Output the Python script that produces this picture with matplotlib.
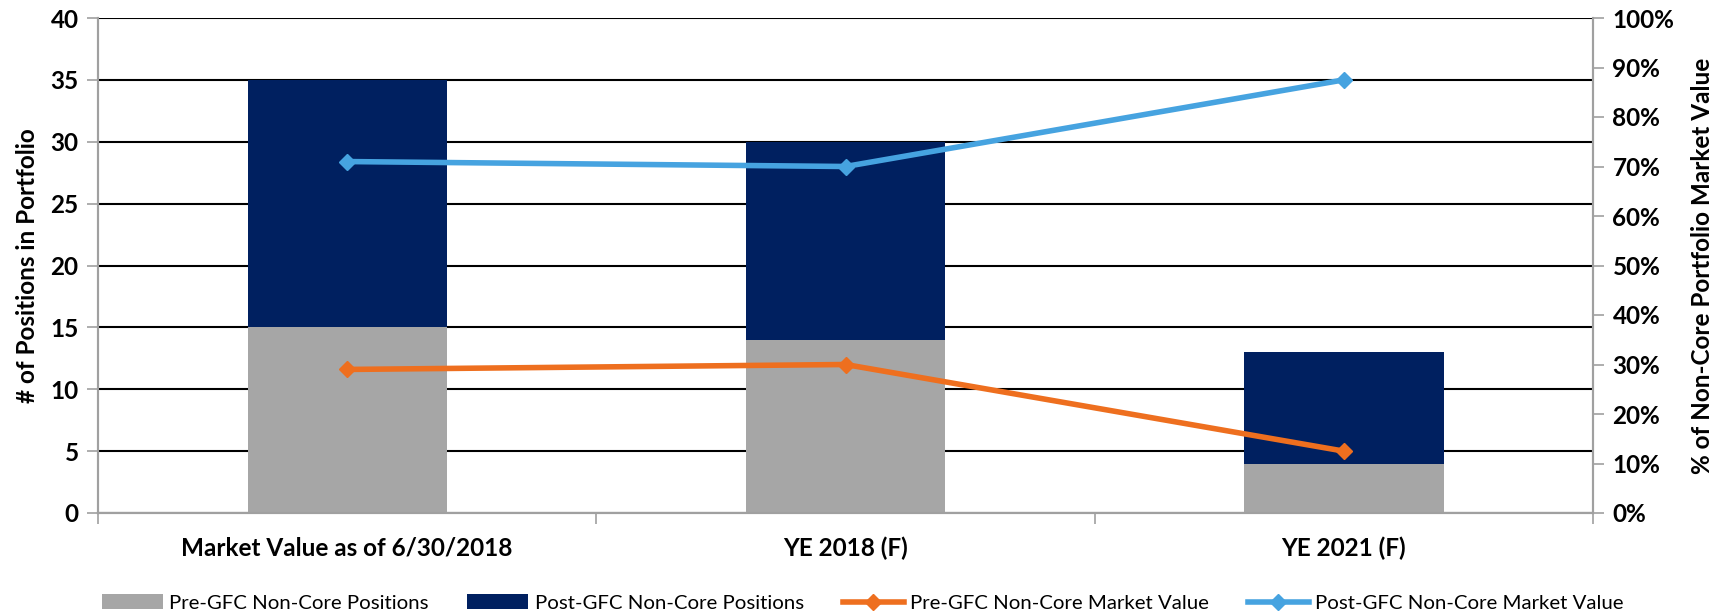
import numpy as np
import matplotlib
matplotlib.use("Agg")
import matplotlib.pyplot as plt
from matplotlib.ticker import MultipleLocator, PercentFormatter, FixedLocator

plt.rcParams['font.family'] = ['Lato', 'DejaVu Sans']

# data
categories = ["Market Value as of 6/30/2018", "YE 2018 (F)", "YE 2021 (F)"]
pre_positions = [15, 14, 4]
post_positions = [20, 16, 9]
pre_mv_pct = [29, 30, 12.5]
post_mv_pct = [71, 70, 87.5]

gray = "#a6a6a6"
navy = "#002060"
orange = "#ee6f1f"
blue = "#46a3e0"
spine_col = "#a0a0a0"

fig = plt.figure(figsize=(17.25, 6.14), dpi=100)
ax = fig.add_axes([98/1725, 101/614, 1495/1725, 495/614])
ax2 = ax.twinx()

x = np.arange(len(categories))
ax.bar(x, pre_positions, width=0.4, color=gray, label="Pre-GFC Non-Core Positions", zorder=3)
ax.bar(x, post_positions, width=0.4, bottom=pre_positions, color=navy,
       label="Post-GFC Non-Core Positions", zorder=3)

ax2.plot(x, pre_mv_pct, color=orange, lw=4, marker="D", ms=8, label="Pre-GFC Non-Core Market Value")
ax2.plot(x, post_mv_pct, color=blue, lw=4, marker="D", ms=8, label="Post-GFC Non-Core Market Value")

ax.set_xlim(-0.5, 2.5)
ax.set_ylim(0, 40)
ax2.set_ylim(0, 100)

ax.yaxis.set_major_locator(MultipleLocator(5))
ax2.yaxis.set_major_locator(MultipleLocator(10))
ax2.yaxis.set_major_formatter(PercentFormatter(decimals=0))

ax.set_xticks(x)
ax.set_xticklabels(categories, fontsize=17.5, fontweight="bold")
ax.xaxis.set_minor_locator(FixedLocator([-0.5, 0.5, 1.5, 2.5]))
ax.tick_params(axis="x", which="major", length=0, pad=17)
ax.tick_params(axis="x", which="minor", length=8, color=spine_col, width=1.2, direction="out")

ax.tick_params(axis="y", length=8, color=spine_col, width=1.2, labelsize=17.5, pad=6)
ax2.tick_params(axis="y", length=8, color=spine_col, width=1.2, labelsize=17.5, pad=6)
for lab in ax.get_yticklabels() + ax2.get_yticklabels():
    lab.set_fontweight("bold")

ax.yaxis.grid(True, color="black", lw=1.5, zorder=0)
ax.set_axisbelow(True)

for a in (ax, ax2):
    a.spines["top"].set_visible(False)
    for s in ("left", "right", "bottom"):
        a.spines[s].set_color(spine_col)
        a.spines[s].set_linewidth(1.5)

ax.set_ylabel("# of Positions in Portfolio", fontsize=17.5, fontweight="bold", labelpad=8)
ax2.set_ylabel("% of Non-Core Portfolio Market Value", fontsize=17.5, fontweight="bold",
               rotation=90, labelpad=12)

h1, l1 = ax.get_legend_handles_labels()
h2, l2 = ax2.get_legend_handles_labels()
fig.legend(h1 + h2, l1 + l2, loc="center", bbox_to_anchor=(0.5, 11/614), ncol=4,
           frameon=False, fontsize=14.7, handlelength=3.0, columnspacing=1.9,
           handletextpad=0.3)

fig.savefig("out.png", dpi=100)
